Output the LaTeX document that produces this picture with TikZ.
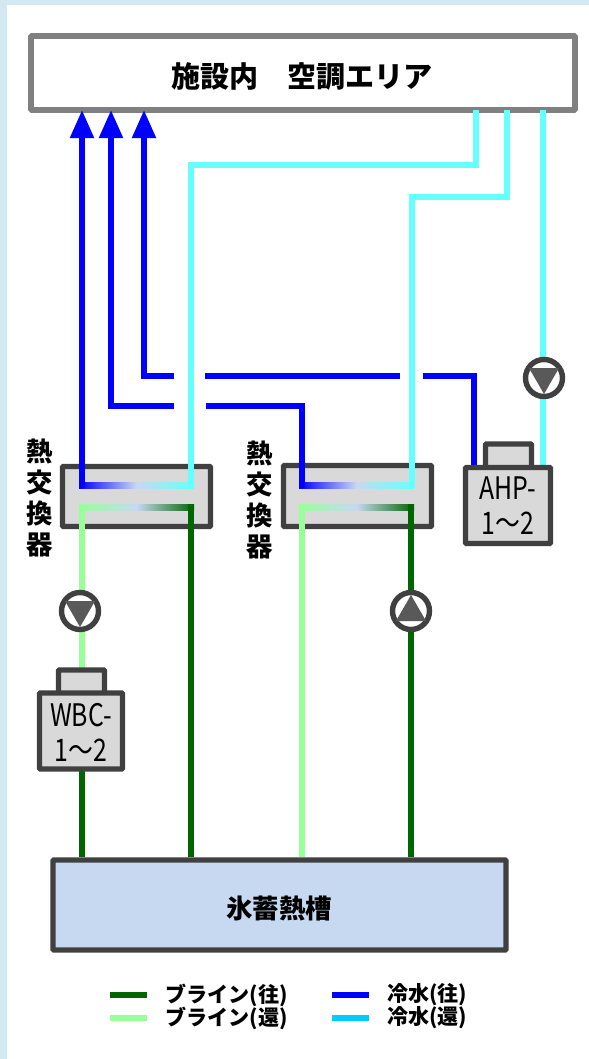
\documentclass[tikz,border=0pt]{standalone}
\usepackage{fontspec}
\setmainfont{Noto Sans CJK JP}
\newfontfamily\boxfont[FakeStretch=0.8]{Noto Sans CJK JP}
\usetikzlibrary{arrows.meta}
\definecolor{framecol}{HTML}{D2E9F3}
\definecolor{boxgray}{HTML}{404040}
\definecolor{areagray}{HTML}{808080}
\definecolor{unitfill}{HTML}{D9D9D9}
\definecolor{tankfill}{HTML}{C6D9F1}
\definecolor{brinesup}{HTML}{006600}
\definecolor{brineret}{HTML}{99FF99}
\definecolor{chilsup}{HTML}{0000FF}
\definecolor{chilret}{HTML}{66FFFF}
\definecolor{legendret}{HTML}{00CCFF}
\def\px{0.03cm}
\tikzset{
  pipe/.style={line width=5pt, line cap=butt},
  tipup/.style={-{Triangle[length=24pt,width=19.5pt]}},
  unit/.style={draw=boxgray, line width=4.6pt, fill=unitfill, rounded corners=0.8pt, inner sep=0pt},
  midashi/.style={font=\fontsize{24.8pt}{29pt}\selectfont\bfseries},
  tate/.style={font=\fontsize{22.5pt}{26.6pt}\selectfont\bfseries, align=center, inner sep=0pt},
  hanrei/.style={font=\fontsize{18pt}{20pt}\selectfont\bfseries, anchor=west, inner sep=0pt},
  kiki/.style={font=\boxfont\fontsize{26.5pt}{30pt}\selectfont, align=center, text=black},
  pump/.style={circle, draw=boxgray, line width=4.6pt, fill=white, minimum size=37*\px, inner sep=0pt}
}
\begin{document}
\begin{tikzpicture}[x=\px, y=-\px]
  \useasboundingbox (0,0) rectangle (589,1059);
  % waku
  \fill[framecol] (0,0) rectangle (589,1059);
  \fill[white] (7,5) rectangle (589,1059);

  % pipe ends
  \coordinate (inA) at (82,110);
  \coordinate (inB) at (111,110);
  \coordinate (inC) at (144,110);
  \coordinate (outA) at (476,110);
  \coordinate (outB) at (507,110);
  \coordinate (outC) at (543,110);

  \node[draw=areagray, line width=4.8pt, fill=white, rounded corners=0.8pt, minimum width=544*\px, minimum height=74*\px] (area) at (303,73) {};
  \node[midashi] (areatxt) at (302,76) {施設内　空調エリア};

  % netsukokanki
  \node[unit, minimum width=148*\px, minimum height=60*\px] (hxA) at (136.5,496.5) {};
  \node[unit, minimum width=148*\px, minimum height=61*\px] (hxB) at (357.5,496) {};
  \node[tate] (hxAtxt) at (40,498) {熱\\交\\換\\器};
  \node[tate] (hxBtxt) at (260,500) {熱\\交\\換\\器};
  \foreach \x in {82,302} {
    \shade[left color=chilsup, right color=chilret, middle color=tankfill] (\x-3,482) rectangle (\x+112,488);
    \shade[left color=brineret, right color=brinesup, middle color=tankfill] (\x-3,504) rectangle (\x+112,510);
  }

  % reisui
  \coordinate (hxAsup) at (82,488);
  \coordinate (hxBsup) at (302,488);
  \coordinate (hxAret) at (191,488);
  \coordinate (hxBret) at (412,488);
  \coordinate (ahpsup) at (474,466);
  \coordinate (ahpret) at (543,466);
  \draw[pipe, chilsup, tipup] (hxAsup) -- (inA);
  \draw[pipe, chilsup, tipup] (174,406) -| (inB);
  \draw[pipe, chilsup] (hxBsup) |- (206,406);
  \draw[pipe, chilsup, tipup] (174,376) -| (inC);
  \draw[pipe, chilsup] (205,376) -- (400,376);
  \draw[pipe, chilsup] (ahpsup) |- (423,376);
  \draw[pipe, chilret] (hxAret) |- (476,165) -- (outA);
  \draw[pipe, chilret] (hxBret) |- (507,197) -- (outB);
  \draw[pipe, chilret] (ahpret) -- (outC);

  \node[draw=boxgray, line width=4.6pt, fill=tankfill, rounded corners=0.8pt, minimum width=453*\px, minimum height=90*\px] (tank) at (279.5,905) {};
  \node[midashi, font=\fontsize{22.5pt}{26pt}\selectfont\bfseries] (tanktxt) at (279,908) {氷蓄熱槽};

  % brine
  \coordinate (hxAbr) at (82,504);
  \coordinate (hxAbs) at (191,504);
  \coordinate (hxBbr) at (302,504);
  \coordinate (hxBbs) at (411,504);
  \draw[pipe, brineret] (hxAbr) -- (82,672);
  \draw[pipe, brinesup] (82,770) -- (hxAbr |- tank.north);
  \draw[pipe, brinesup] (hxAbs) -- (hxAbs |- tank.north);
  \draw[pipe, brineret] (hxBbr) -- (hxBbr |- tank.north);
  \draw[pipe, brinesup] (hxBbs) -- (hxBbs |- tank.north);

  % reitoki
  \node[unit, minimum width=46*\px, minimum height=24*\px] (wbctop) at (81.5,682) {};
  \node[unit, minimum width=83*\px, minimum height=76*\px] (wbc) at (81,731) {};
  \node[kiki] (wbctxt) at (81,732) {WBC-\\1～2};
  \node[unit, minimum width=46*\px, minimum height=24*\px] (ahptop) at (508.5,456) {};
  \node[unit, minimum width=85*\px, minimum height=76*\px] (ahp) at (508,505.5) {};
  \node[kiki] (ahptxt) at (508,506) {AHP-\\1～2};

  % pump
  \foreach \p/\xx/\yy/\s in {pumpA/80/611/1, pumpB/411/611/-1, pumpC/544/378/1} {
    \node[pump] (\p) at (\xx,\yy) {};
    \fill[black!65] (\p.center) ++(-15,-10*\s) -- ++(30,0) -- ++(-15,26*\s) -- cycle;
  }

  % hanrei
  \foreach \y/\col/\txt/\n in {995/brinesup/往/a, 1018/brineret/還/b} {
    \coordinate (lg\n) at (110,\y);
    \draw[pipe, \col] (lg\n) -- ++(37,0);
    \node[hanrei] (lgtxt\n) at (165,\y) {ブライン(\txt)};
  }
  \foreach \y/\col/\txt/\n in {995/chilsup/往/c, 1018/legendret/還/d} {
    \coordinate (lg\n) at (332,\y);
    \draw[pipe, \col] (lg\n) -- ++(37,0);
    \node[hanrei] (lgtxt\n) at (387,\y) {冷水(\txt)};
  }
\end{tikzpicture}
\end{document}
